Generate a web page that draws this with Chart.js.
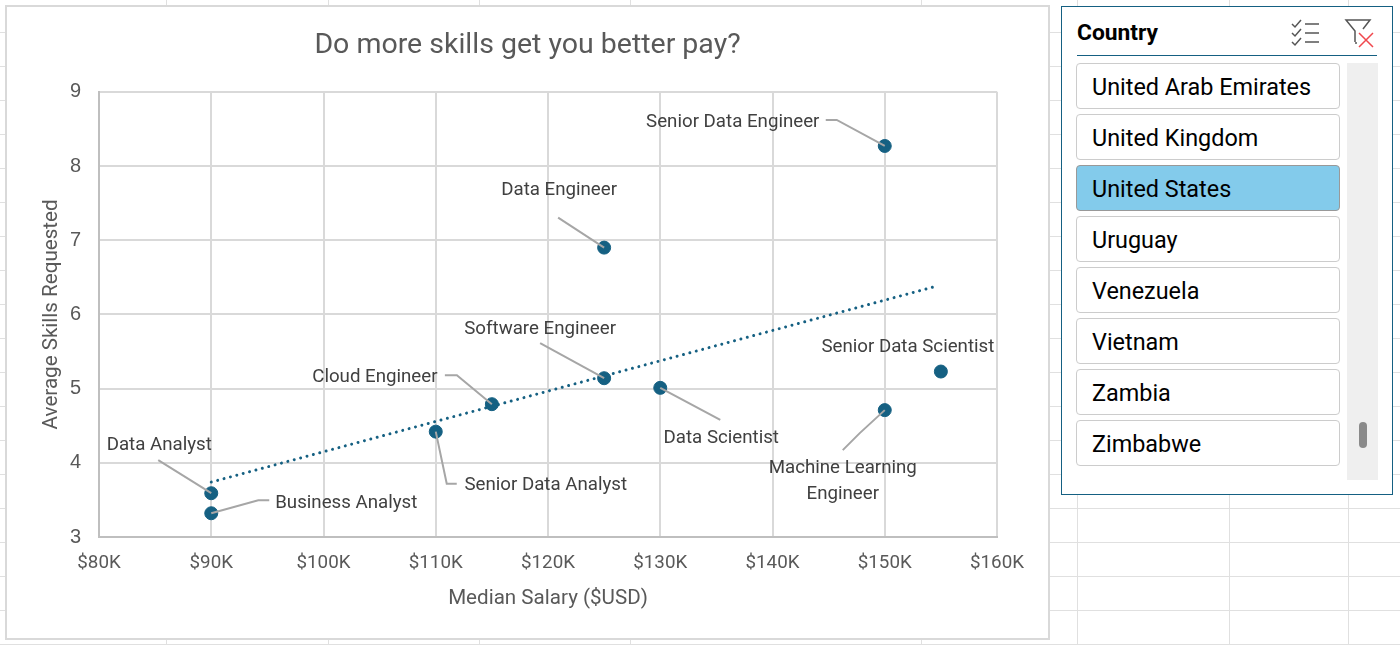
<!DOCTYPE html>
<html lang="en">
<head>
<meta charset="UTF-8" />
<title>Do more skills get you better pay?</title>
<script src="https://cdn.jsdelivr.net/npm/chart.js"></script>
<style>
    html, body { margin: 0; padding: 0; width: 1400px; height: 645px; overflow: hidden; background: #fff; }
    body { position: relative; font-family: Roboto, sans-serif; }
    .sheet-v { position: absolute; top: 0; bottom: 0; width: 1px; background: #e0e0e0; }
    .sheet-h { position: absolute; left: 0; right: 0; height: 1px; background: #e0e0e0; }
    #chartBox { position: absolute; left: 5px; top: 5px; width: 1041px; height: 631px; background: #fff; border: 2px solid #d9d9d9; }
    #chartBox canvas { display: block; }
    #slicer { position: absolute; left: 1061px; top: 6px; width: 330px; height: 487px; background: #fff; border: 1px solid #156082; }
    #slicer .head { position: absolute; left: 15px; top: 12px; font: bold 22.8px Roboto, sans-serif; color: #000; line-height: 28px; }
    #slicer .rule { position: absolute; left: 15px; top: 48px; width: 300px; height: 1px; background: #156082; }
    #slicer svg { position: absolute; }
    .item { position: absolute; left: 14px; width: 262px; height: 44px; border: 1px solid #cccccc; border-radius: 4px; background: #fff;
            font-size: 23.4px; line-height: 47px; color: #000; text-indent: 15px; white-space: nowrap; }
    .item.on { background: #83cbeb; border-color: #999999; }
    #track { position: absolute; left: 285px; top: 56px; width: 31px; height: 417px; background: #efefef; }
    #thumb { position: absolute; left: 12px; top: 359px; width: 8px; height: 26px; background: #8a8a8a; border-radius: 4px; }
</style>
</head>
<body>
<div id="chartBox"><canvas id="payChart" width="1041" height="631"></canvas></div>
<div id="slicer">
    <div class="head">Country</div>
    <div class="rule"></div>
    <svg style="left:228px;top:11px" width="32" height="30" viewBox="0 0 32 30" fill="none" stroke="#555" stroke-width="1.5">
        <path d="M2 6l3 3 6-7M2 15l3 3 6-7M2 24l3 3 6-7" />
        <path d="M15 6h14M15 15h14M15 24h14" />
    </svg>
    <svg style="left:282px;top:11px" width="34" height="32" viewBox="0 0 34 32" fill="none" stroke-width="1.5">
        <path d="M11 24V13L2 2h24l-7 9" stroke="#555" />
        <path d="M11 25h2" stroke="#555" />
        <path d="M15 15l14 14M29 15L15 29" stroke="#f0484e" />
    </svg>
    <div id="items"></div>
    <div id="track"><div id="thumb"></div></div>
</div>
<script>
    const roles = ['Business Analyst', 'Data Analyst', 'Senior Data Analyst', 'Cloud Engineer', 'Software Engineer',
        'Data Scientist', 'Data Engineer', 'Senior Data Engineer', 'Machine Learning Engineer', 'Senior Data Scientist'];
    const medianSalary = [90, 90, 110, 115, 125, 130, 125, 150, 150, 155];
    const avgSkills = [3.32, 3.59, 4.42, 4.79, 5.14, 5.01, 6.9, 8.27, 4.71, 5.23];
    const trendSalary = [90, 154.6];
    const trendSkills = [3.74, 6.38];
    const countries = ['United Arab Emirates', 'United Kingdom', 'United States', 'Uruguay', 'Venezuela', 'Vietnam', 'Zambia', 'Zimbabwe'];
    const selectedCountry = 'United States';

    // label placement, pixels from the point: text centre, then leader bends from the label end
    const labelLines = {
        'Machine Learning Engineer': ['Machine Learning', 'Engineer']
    };
    const labelOffsets = [[135, -10], [-52, -48], [110, 54], [-117, -27], [-64, -49], [61, 50], [-45, -57], [-152, -24], [-42, 71], [-33, -24]];
    const leaders = [
        [[58, -13], [47, -13]],
        [[-53, -33]],
        [[21, 52], [11, 52]],
        [[-47, -29], [-35, -29]],
        [[-64, -35]],
        [[60, 32]],
        [[-46, -30]],
        [[-59, -26], [-48, -26]],
        [[-42, 40], [-25, 23]],
        []
    ];

    const sheetCols = [166, 328, 479, 630, 921, 1077, 1229, 1348];
    sheetCols.forEach(function (x) {
        const d = document.createElement('div');
        d.className = 'sheet-v';
        d.style.left = x + 'px';
        document.body.insertBefore(d, document.body.firstChild);
    });
    for (let y = 32; y < 645; y += 34) {
        const d = document.createElement('div');
        d.className = 'sheet-h';
        d.style.top = y + 'px';
        document.body.insertBefore(d, document.body.firstChild);
    }

    const items = document.getElementById('items');
    countries.forEach(function (name, i) {
        const d = document.createElement('div');
        d.className = 'item' + (name === selectedCountry ? ' on' : '');
        d.style.top = (56 + i * 51) + 'px';
        d.textContent = name;
        items.appendChild(d);
    });

    const leaderPlugin = {
        id: 'leaderLabels',
        afterDatasetsDraw(chart) {
            const ctx = chart.ctx;
            const x = chart.scales.x, y = chart.scales.y;
            ctx.save();
            roles.forEach(function (role, i) {
                const px = x.getPixelForValue(medianSalary[i]);
                const py = y.getPixelForValue(avgSkills[i]);
                if (leaders[i].length) {
                    ctx.beginPath();
                    leaders[i].forEach(function (p, j) {
                        if (j === 0) ctx.moveTo(px + p[0], py + p[1]);
                        else ctx.lineTo(px + p[0], py + p[1]);
                    });
                    ctx.lineTo(px, py);
                    ctx.strokeStyle = '#a6a6a6';
                    ctx.lineWidth = 2;
                    ctx.stroke();
                }
                ctx.font = '18.7px Roboto';
                ctx.fillStyle = '#404040';
                ctx.textAlign = 'center';
                ctx.textBaseline = 'middle';
                const lines = labelLines[role] || [role];
                lines.forEach(function (t, j) {
                    ctx.fillText(t, px + labelOffsets[i][0], py + labelOffsets[i][1] + (j * 26) - ((lines.length - 1) * 13));
                });
            });
            ctx.restore();
        }
    };

    new Chart(document.getElementById('payChart'), {
        type: 'scatter',
        data: {
            datasets: [
                {
                    label: 'Roles',
                    data: medianSalary.map(function (s, i) { return { x: s, y: avgSkills[i] }; }),
                    backgroundColor: '#156082',
                    borderColor: '#156082',
                    pointRadius: 6.5,
                    pointHoverRadius: 6.5
                },
                {
                    label: 'Trend',
                    type: 'line',
                    data: trendSalary.map(function (s, i) { return { x: s, y: trendSkills[i] }; }),
                    borderColor: '#156082',
                    borderWidth: 3,
                    borderCapStyle: 'round',
                    borderDash: [0.01, 6.6],
                    pointRadius: 0,
                    fill: false
                }
            ]
        },
        options: {
            responsive: false,
            animation: false,
            layout: { padding: 0 },
            plugins: {
                legend: { display: false },
                tooltip: { enabled: false },
                title: {
                    display: true,
                    text: 'Do more skills get you better pay?',
                    color: '#595959',
                    font: { family: 'Roboto', size: 28.5, weight: 'normal', lineHeight: 1.2 },
                    padding: { top: 22, bottom: 28.6 }
                }
            },
            scales: {
                x: {
                    type: 'linear',
                    min: 80,
                    max: 160,
                    afterFit(s) { s.height = 101; s.paddingRight = 51; s.paddingLeft = 0; },
                    ticks: {
                        stepSize: 10,
                        maxRotation: 0,
                        color: '#595959',
                        padding: 15,
                        font: { family: 'Roboto', size: 18.8 },
                        callback: function (v) { return '$' + v + 'K'; }
                    },
                    grid: { color: '#d9d9d9', lineWidth: 2, drawTicks: false },
                    border: { color: '#bfbfbf', width: 2 },
                    title: {
                        display: true,
                        text: 'Median Salary ($USD)',
                        color: '#595959',
                        font: { family: 'Roboto', size: 20.6 },
                        padding: { top: 0, bottom: 27 }
                    }
                },
                y: {
                    min: 3,
                    max: 9,
                    afterFit(s) { s.width = 92; },
                    ticks: {
                        stepSize: 1,
                        color: '#595959',
                        padding: 18,
                        font: { family: "'Liberation Sans'", size: 20 }
                    },
                    grid: { color: '#d9d9d9', lineWidth: 2, drawTicks: false },
                    border: { color: '#bfbfbf', width: 2 },
                    title: {
                        display: true,
                        text: 'Average Skills Requested',
                        color: '#595959',
                        font: { family: 'Roboto', size: 20.6 },
                        padding: { top: 32, bottom: 0 }
                    }
                }
            }
        },
        plugins: [leaderPlugin]
    });
</script>
</body>
</html>
